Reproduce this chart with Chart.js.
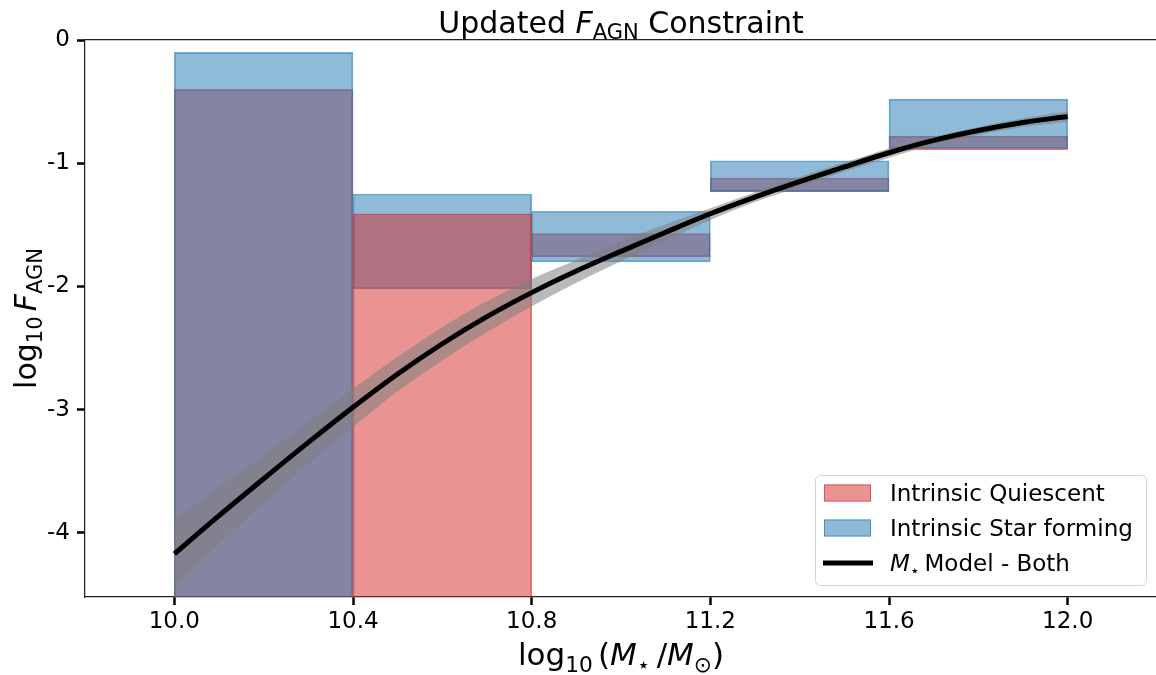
<!DOCTYPE html>
<html>
<head>
<meta charset="utf-8">
<title>Updated F_AGN Constraint</title>
<script src="https://cdn.jsdelivr.net/npm/chart.js@4.4.1/dist/chart.umd.min.js"></script>
<style>
  html, body { margin: 0; padding: 0; background: #fff; overflow: hidden; }
  #wrap { width: 1157px; height: 675px; }
</style>
</head>
<body>
<div id="wrap"><canvas id="fagnChart"></canvas></div>
<script>
// stellar-mass bins (log10 M*/Msun)
const binLo = [10.0, 10.4, 10.8, 11.2, 11.6];
const binHi = [10.4, 10.8, 11.2, 11.6, 12.0];

// allowed log10 F_AGN ranges per bin (-5 = open down past the axis)
const quiescentTop    = [-0.40, -1.41, -1.57, -1.12, -0.78];
const quiescentBottom = [-5.00, -5.00, -1.76, -1.23, -0.89];
const starFormTop     = [-0.10, -1.25, -1.39, -0.98, -0.48];
const starFormBottom  = [-5.00, -2.02, -1.80, -1.23, -0.88];
// bins where the quiescent box was painted over the star-forming one
const quiescentOnTop  = [false, true, false, false, false];

// mass model curve and its band
const modelMass  = [10.0, 10.1, 10.2, 10.3, 10.4, 10.5, 10.6, 10.7, 10.8, 10.9, 11.0,
                    11.1, 11.2, 11.3, 11.4, 11.5, 11.6, 11.7, 11.8, 11.9, 12.0];
const modelMid   = [-4.17, -3.86, -3.56, -3.265, -2.98, -2.71, -2.465, -2.245, -2.05, -1.875, -1.715,
                    -1.56, -1.41, -1.275, -1.15, -1.03, -0.915, -0.815, -0.735, -0.67, -0.62];
const modelUpper = [-3.89, -3.63, -3.37, -3.10, -2.83, -2.57, -2.33, -2.12, -1.94, -1.785, -1.635,
                    -1.495, -1.365, -1.235, -1.11, -0.995, -0.88, -0.785, -0.705, -0.635, -0.58];
const modelLower = [-4.44, -4.09, -3.76, -3.44, -3.14, -2.85, -2.60, -2.37, -2.16, -1.97, -1.795,
                    -1.63, -1.46, -1.315, -1.19, -1.07, -0.955, -0.85, -0.77, -0.705, -0.665];

const xTicks = [10.0, 10.4, 10.8, 11.2, 11.6, 12.0];
const yTicks = [0, -1, -2, -3, -4];

const FONT = "'DejaVu Sans', sans-serif";
const RED_FILL = 'rgba(214, 39, 40, 0.5)';
const RED_EDGE = 'rgba(214, 39, 40, 0.6)';
const BLUE_FILL = 'rgba(31, 119, 180, 0.5)';
const BLUE_EDGE = 'rgba(31, 119, 180, 0.6)';
const BAND_FILL = 'rgba(128, 128, 128, 0.55)';

function boxes(top, bottom, pick) {
  const out = [];
  binLo.forEach((lo, i) => {
    if (pick && !pick(i)) return;
    out.push({ x: (lo + binHi[i]) / 2, y: [bottom[i], top[i]] });
  });
  return out;
}
const curve = vals => modelMass.map((m, i) => ({ x: m, y: vals[i] }));

const barCommon = {
  type: 'bar',
  grouped: false,
  barPercentage: 1,
  categoryPercentage: 1,
  borderWidth: 1,
  borderSkipped: false,
  clip: 0
};
const smoothLine = { type: 'line', pointRadius: 0, cubicInterpolationMode: 'monotone' };

// mathtext-ish label pieces: it = italic, sub = subscript
const titleParts  = [{ t: 'Updated ' }, { t: 'F', it: true }, { t: 'AGN', sub: true }, { t: ' Constraint' }];
const xLabelParts = [{ t: 'log' }, { t: '10', sub: true, gap: 0.17 }, { t: '(' }, { t: 'M', it: true },
                     { t: '\u22c6', sub: true, gap: 0.2 }, { t: '/' }, { t: 'M', it: true },
                     { t: '\u2299', sub: true }, { t: ')' }];
const yLabelParts = [{ t: 'log' }, { t: '10', sub: true, gap: 0.17 }, { t: 'F', it: true }, { t: 'AGN', sub: true }];
const modelLegendParts = [{ t: 'M', it: true }, { t: '\u22c6', sub: true, gap: 0.2 }, { t: 'Model - Both' }];

function partFont(p, size) {
  return (p.it ? 'italic ' : '') + (p.sub ? size * 0.7 : size) + 'px ' + FONT;
}
function richWidth(ctx, parts, size) {
  let w = 0;
  for (const p of parts) {
    ctx.font = partFont(p, size);
    w += ctx.measureText(p.t).width + (p.gap || 0) * size;
  }
  return w;
}
function drawRich(ctx, parts, x, baseline, size, align) {
  if (align === 'center') x -= richWidth(ctx, parts, size) / 2;
  ctx.textAlign = 'left';
  ctx.textBaseline = 'alphabetic';
  for (const p of parts) {
    ctx.font = partFont(p, size);
    ctx.fillText(p.t, x, baseline + (p.sub ? size * 0.21 : 0));
    x += ctx.measureText(p.t).width + (p.gap || 0) * size;
  }
}

// title, axis labels, top spine and the in-axes legend
const decorations = {
  id: 'decorations',
  afterDraw(chart) {
    const { ctx, chartArea: a } = chart;
    ctx.save();
    ctx.fillStyle = '#000';

    // top spine
    ctx.strokeStyle = '#222';
    ctx.lineWidth = 1.25;
    ctx.beginPath();
    ctx.moveTo(a.left, Math.round(a.top) - 0.5);
    ctx.lineTo(a.right, Math.round(a.top) - 0.5);
    ctx.stroke();

    const cx = (a.left + a.right) / 2;
    drawRich(ctx, titleParts, cx, 33, 30, 'center');
    drawRich(ctx, xLabelParts, cx, 665, 31, 'center');

    ctx.save();
    ctx.translate(36, (a.top + a.bottom) / 2);
    ctx.rotate(-Math.PI / 2);
    drawRich(ctx, yLabelParts, 0, 0, 30, 'center');
    ctx.restore();

    // legend box
    const w = 331, h = 110;
    const lx = a.right - 11 - w, ly = a.bottom - 12 - h;
    ctx.beginPath();
    ctx.roundRect(lx + 0.5, ly + 0.5, w, h, 5);
    ctx.fillStyle = 'rgba(255,255,255,0.8)';
    ctx.fill();
    ctx.strokeStyle = '#d4d4d4';
    ctx.lineWidth = 1;
    ctx.stroke();

    const rows = [ly + 18, ly + 53, ly + 88];
    const patch = (y, fill, edge) => {
      ctx.fillStyle = fill;
      ctx.fillRect(lx + 9, y - 8.5, 47, 17);
      ctx.strokeStyle = edge;
      ctx.strokeRect(lx + 9.5, y - 8, 46, 16);
    };
    patch(rows[0], RED_FILL, RED_EDGE);
    patch(rows[1], BLUE_FILL, BLUE_EDGE);
    ctx.strokeStyle = '#000';
    ctx.lineWidth = 5;
    ctx.beginPath();
    ctx.moveTo(lx + 8, rows[2]);
    ctx.lineTo(lx + 58, rows[2]);
    ctx.stroke();

    ctx.fillStyle = '#000';
    const fs = 23;
    ctx.font = fs + 'px ' + FONT;
    ctx.textAlign = 'left';
    ctx.textBaseline = 'alphabetic';
    ctx.fillText('Intrinsic Quiescent', lx + 75, rows[0] + 8);
    ctx.fillText('Intrinsic Star forming', lx + 75, rows[1] + 8);
    drawRich(ctx, modelLegendParts, lx + 75, rows[2] + 8, fs, 'left');
    ctx.restore();
  }
};

const ctx = document.getElementById('fagnChart').getContext('2d');
new Chart(ctx, {
  type: 'bar',
  data: {
    datasets: [
      { ...barCommon, label: 'Intrinsic Quiescent', data: boxes(quiescentTop, quiescentBottom, i => !quiescentOnTop[i]),
        backgroundColor: RED_FILL, borderColor: RED_EDGE, order: 4 },
      { ...barCommon, label: 'Intrinsic Star forming', data: boxes(starFormTop, starFormBottom),
        backgroundColor: BLUE_FILL, borderColor: BLUE_EDGE, order: 3 },
      { ...barCommon, label: 'Intrinsic Quiescent (over)', data: boxes(quiescentTop, quiescentBottom, i => quiescentOnTop[i]),
        backgroundColor: RED_FILL, borderColor: RED_EDGE, order: 2 },
      { ...smoothLine, label: 'band upper', data: curve(modelUpper), borderWidth: 0,
        backgroundColor: BAND_FILL, fill: '+1', order: 1 },
      { ...smoothLine, label: 'band lower', data: curve(modelLower), borderWidth: 0,
        fill: false, order: 1 },
      { ...smoothLine, label: 'M* Model - Both', data: curve(modelMid), borderColor: '#000', borderWidth: 5,
        fill: false, borderCapStyle: 'butt', order: 0 }
    ]
  },
  options: {
    responsive: true,
    maintainAspectRatio: false,
    animation: false,
    events: [],
    layout: { padding: { top: 40, right: 0, left: 0, bottom: 0 } },
    plugins: { legend: { display: false }, tooltip: { enabled: false }, title: { display: false } },
    scales: {
      x: {
        type: 'linear',
        min: 9.8,
        max: 12.2,
        offset: false,
        afterBuildTicks: s => { s.ticks = xTicks.map(v => ({ value: v })); },
        afterFit: s => { s.height = 78; },
        grid: { offset: false, drawOnChartArea: false, drawTicks: true, tickLength: 8, tickWidth: 2.5, tickColor: '#000' },
        border: { display: true, color: '#222', width: 1.25 },
        ticks: { color: '#000', font: { family: FONT, size: 23 }, padding: 3, maxRotation: 0,
                 callback: v => Number(v).toFixed(1) }
      },
      y: {
        min: -4.52,
        max: 0,
        afterBuildTicks: s => { s.ticks = yTicks.map(v => ({ value: v })); },
        afterFit: s => { s.width = 85; },
        grid: { drawOnChartArea: false, drawTicks: true, tickLength: 8, tickWidth: 2.5, tickColor: '#000' },
        border: { display: true, color: '#222', width: 1.25 },
        ticks: { color: '#000', font: { family: FONT, size: 23 }, padding: 7,
                 callback: v => String(v) }
      }
    }
  },
  plugins: [decorations]
});
</script>
</body>
</html>
